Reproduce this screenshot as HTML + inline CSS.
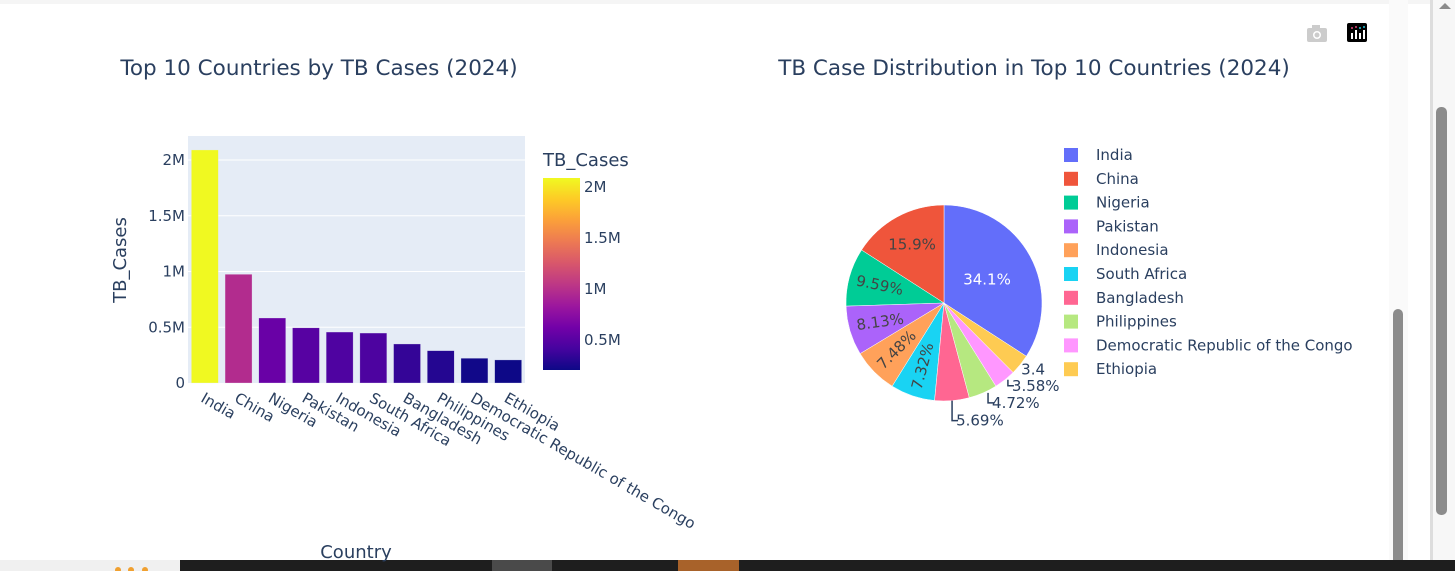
<!DOCTYPE html>
<html><head><meta charset="utf-8">
<style>
html,body{margin:0;padding:0;width:1455px;height:571px;overflow:hidden;background:#fff;font-family:"Liberation Sans","DejaVu Sans",sans-serif;}
svg text{font-family:"DejaVu Sans","Liberation Sans",sans-serif;}
</style></head>
<body>
<svg id="chart" width="1455" height="571" xmlns="http://www.w3.org/2000/svg">
  <rect x="0" y="0" width="1455" height="571" fill="#fff"/>
  <rect x="0" y="0" width="1432" height="4" fill="#eee" opacity="0.6"/>
  <rect x="1389" y="0" width="19" height="560" fill="#fafafa"/>
  <rect x="1393" y="309" width="10" height="264" rx="5" fill="#8c8c8c"/>
  <rect x="1430" y="0" width="3" height="571" fill="#ddd"/>
  <rect x="1433" y="0" width="22" height="571" fill="#f7f7f7"/>
  <polygon points="1439,9 1445,3 1451,9" fill="#8c8c8c"/>
  <rect x="1436" y="107" width="11" height="408" rx="5" fill="#8c8c8c"/>
  <rect x="0" y="560" width="180" height="11" fill="#f0f0f0"/>
  <rect x="180" y="560" width="1275" height="11" fill="#1e1e1e"/>
  <rect x="492" y="560" width="60" height="11" fill="#4a4a4a"/>
  <rect x="678" y="560" width="61" height="11" fill="#a8622a"/>
  <circle cx="118" cy="570" r="3" fill="#f0a030"/><circle cx="131" cy="570" r="3" fill="#f0a030"/><circle cx="145" cy="570" r="3" fill="#f0a030"/>

  <g><rect x="1307" y="28" width="20" height="14" rx="2" fill="#ccc"/><rect x="1312" y="25" width="8" height="4" fill="#ccc"/><circle cx="1317" cy="35" r="4" fill="#fff"/><circle cx="1317" cy="35" r="2.5" fill="#ccc"/></g>
  <g><rect x="1347" y="23" width="20" height="19" rx="2" fill="#000"/><rect x="1351" y="33" width="2" height="6" fill="#fff"/><rect x="1355" y="30" width="2" height="9" fill="#fff"/><rect x="1359" y="33" width="2" height="6" fill="#fff"/><rect x="1363" y="30" width="2" height="9" fill="#fff"/><circle cx="1352" cy="28" r="1" fill="#e0457b"/><circle cx="1356" cy="27" r="1" fill="#e0457b"/><circle cx="1360" cy="28" r="1" fill="#26c6da"/><circle cx="1364" cy="27" r="1" fill="#26c6da"/></g>

  <text x="319" y="75" text-anchor="middle" font-size="21.5" fill="#2a3f5f">Top 10 Countries by TB Cases (2024)</text>
  <text x="1034" y="75" text-anchor="middle" font-size="21.5" fill="#2a3f5f">TB Case Distribution in Top 10 Countries (2024)</text>

  <rect x="188" y="136" width="337" height="247" fill="#e5ecf6"/>
  <g id="grid"></g>
  <g id="bars"></g>
  <g id="yticks"></g>
  <g id="xticks"></g>
  <text transform="translate(126,260) rotate(-90)" text-anchor="middle" font-size="18" fill="#2a3f5f">TB_Cases</text>
  <text x="356" y="558" text-anchor="middle" font-size="18" fill="#2a3f5f">Country</text>

  <text x="543" y="166" font-size="18" fill="#2a3f5f">TB_Cases</text>
  <defs><linearGradient id="plasma" x1="0" y1="1" x2="0" y2="0">
    <stop offset="0" stop-color="#0d0887"/><stop offset="0.111" stop-color="#46039f"/><stop offset="0.222" stop-color="#7201a8"/><stop offset="0.333" stop-color="#9c179e"/><stop offset="0.444" stop-color="#bd3786"/><stop offset="0.556" stop-color="#d8576b"/><stop offset="0.667" stop-color="#ed7953"/><stop offset="0.778" stop-color="#fb9f3a"/><stop offset="0.889" stop-color="#fdca26"/><stop offset="1" stop-color="#f0f921"/>
  </linearGradient></defs>
  <rect x="543" y="178" width="37" height="192" fill="url(#plasma)"/>
  <g id="cbticks"></g>

  <g id="pie"></g>
  <g id="legend"></g>
</svg>
<script>
const countries = ["India","China","Nigeria","Pakistan","Indonesia","South Africa","Bangladesh","Philippines","Democratic Republic of the Congo","Ethiopia"];
const cases = [2090000, 975000, 583000, 495000, 457000, 448000, 350000, 290000, 222000, 207000];
const pieShares = [34.1, 15.9, 9.59, 8.13, 7.48, 7.32, 5.69, 4.72, 3.58, 3.4];
const pieLabels = ["34.1%","15.9%","9.59%","8.13%","7.48%","7.32%","5.69%","4.72%","3.58%","3.4"];
const yTickVals = [0, 500000, 1000000, 1500000, 2000000];
const yTickLabels = ["0","0.5M","1M","1.5M","2M"];
const cbTickVals = [500000, 1000000, 1500000, 2000000];
const cbTickLabels = ["0.5M","1M","1.5M","2M"];
const pieColors = ["#636efa","#EF553B","#00cc96","#ab63fa","#FFA15A","#19d3f3","#FF6692","#B6E880","#FF97FF","#FECB52"];

const NS="http://www.w3.org/2000/svg";
function mk(tag, attrs, parent, text){const e=document.createElementNS(NS,tag);for(const k in attrs)e.setAttribute(k,attrs[k]);if(text!==undefined)e.textContent=text;parent.appendChild(e);return e;}
const plot={x0:188,x1:525,y0:383,yTop:136};
const yScale=v=>plot.y0-v*(223/2000000);
const band=(plot.x1-plot.x0)/countries.length;
const xCenter=i=>plot.x0+band*(i+0.5);
const stops=[[13,8,135],[70,3,159],[114,1,168],[156,23,158],[189,55,134],[216,87,107],[237,121,83],[251,159,58],[253,202,38],[240,249,33]];
const cmin=Math.min(...cases), cmax=Math.max(...cases);
function plasma(v){let t=(v-cmin)/(cmax-cmin);t=Math.max(0,Math.min(1,t))*9;const i=Math.min(8,Math.floor(t)),f=t-i;const a=stops[i],b=stops[i+1];return `rgb(${a.map((c,k)=>Math.round(c+(b[k]-c)*f)).join(',')})`;}

const grid=document.getElementById('grid'), yt=document.getElementById('yticks');
yTickVals.forEach((v,i)=>{
  if(v>0){const l=mk('line',{x1:plot.x0,x2:plot.x1,y1:yScale(v),y2:yScale(v),stroke:'#fff','stroke-width':1},grid);
  
  }
  const t=mk('text',{x:185,y:yScale(v)+5,'text-anchor':'end','font-size':15,fill:'#2a3f5f'},yt,yTickLabels[i]);
  
  
});
const bars=document.getElementById('bars'), xt=document.getElementById('xticks');
cases.forEach((v,i)=>{
  const w=band*0.8;
  const r=mk('rect',{x:xCenter(i)-w/2,y:yScale(v),width:w,height:plot.y0-yScale(v),fill:plasma(v),stroke:'rgba(229,236,246,0.6)','stroke-width':0.5},bars);
  
  
  const t=mk('text',{transform:`translate(${xCenter(i)-5},${plot.y0+18}) rotate(30)`,'font-size':15,fill:'#2a3f5f'},xt,countries[i]);
  
  
});
const cb=document.getElementById('cbticks');
const cbY=v=>370-(v-cmin)/(cmax-cmin)*192;
cbTickVals.forEach((v,i)=>{
  const t=mk('text',{x:584,y:cbY(v)+5,'font-size':15,fill:'#2a3f5f'},cb,cbTickLabels[i]);
  
  
});

const pie=document.getElementById('pie');
const cx=944, cy=303, R=98;
const total=pieShares.reduce((a,b)=>a+b,0);
let ang=pieShares[0]/total*2*Math.PI;
const pt=(a,r)=>[cx+r*Math.sin(a),cy-r*Math.cos(a)];
const rots=[0,0,12,-8,-45,-75];
const outOff=[[0,20,6],[8,10,5],[4,6,3]];
pieShares.forEach((s,i)=>{
  const a0=ang, a1=ang-s/total*2*Math.PI; ang=a1;
  const p0=pt(a0,R), p1=pt(a1,R), large=(a0-a1)>Math.PI?1:0;
  const p=mk('path',{d:`M${cx},${cy} L${p0[0]},${p0[1]} A${R},${R} 0 ${large} 0 ${p1[0]},${p1[1]} Z`,fill:pieColors[i],stroke:'#fff','stroke-width':0.5},pie);
  
  
  const mid=(a0+a1)/2;
  if(i<6){
    const rr=i===0?0.5:0.68; const q=pt(mid,R*rr);
    const t=mk('text',{x:q[0],y:q[1]+5,'text-anchor':'middle','font-size':15,fill:i===0?'#fff':'#444',transform:`rotate(${rots[i]} ${q[0]} ${q[1]})`},pie,pieLabels[i]);
    
    
  } else if(i<9){
    const e=pt(mid,R); const o=outOff[i-6];
    const vx=e[0]+(i===6?0:o[2]);
    const ly=e[1]+o[1];
    const l=mk('path',{d:`M${vx},${e[1]} L${vx},${ly} L${vx+6},${ly}`,fill:'none',stroke:'#2a3f5f','stroke-width':1.5},pie);
    
    
    const t=mk('text',{x:vx+4,y:ly+5,'font-size':15,fill:'#2a3f5f'},pie,pieLabels[i]);
    
    
  } else {
    const e=pt(mid,R);
    const t=mk('text',{x:e[0]+1,y:e[1]+10,'font-size':15,fill:'#2a3f5f'},pie,pieLabels[i]);
    
    
  }
});
const lg=document.getElementById('legend');
countries.forEach((c,i)=>{
  const y=155+i*23.8;
  const r=mk('rect',{x:1064,y:y-7,width:14,height:14,fill:pieColors[i]},lg);
  
  
  const t=mk('text',{x:1096,y:y+5,'font-size':15,fill:'#2a3f5f'},lg,c);
  
  
});
</script>
</body></html>
